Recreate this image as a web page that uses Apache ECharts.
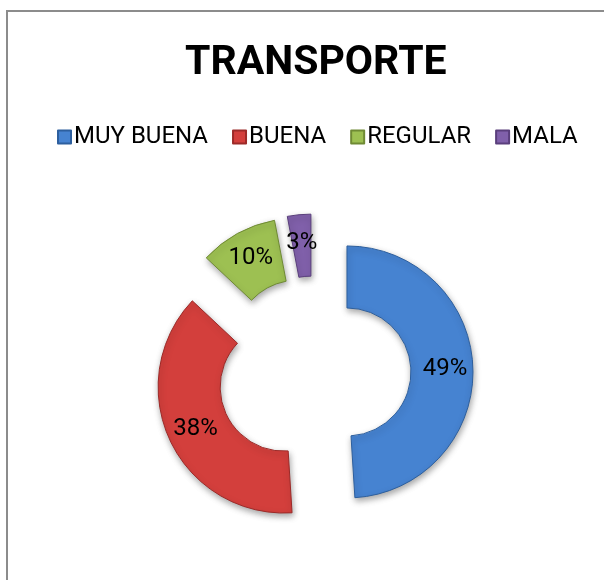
<!DOCTYPE html>
<html>
<head>
<meta charset="utf-8">
<script src="https://cdn.jsdelivr.net/npm/echarts@6/dist/echarts.min.js"></script>
<style>
  html, body { margin: 0; padding: 0; background: #fff; }
  #main { width: 604px; height: 580px; }
</style>
</head>
<body>
<div id="main"></div>
<script>
var categories = ['MUY BUENA', 'BUENA', 'REGULAR', 'MALA'];
var values = [49, 38, 10, 3];
var colors = ['#4683d1', '#d33f3c', '#9dc052', '#8060aa'];
var edgeColors = ['#2d5f9e', '#9c2a28', '#6f8a34', '#5a3f7c'];

var myChart = echarts.init(document.getElementById('main'));

var pieData = categories.map(function (name, i) {
    return {
        name: name,
        value: values[i],
        selected: true,
        itemStyle: { color: colors[i], borderColor: edgeColors[i] }
    };
});

var option = {
    backgroundColor: '#fff',
    animation: false,
    color: colors,
    graphic: [{
        type: 'rect',
        shape: { x: 7, y: 11, width: 700, height: 700 },
        style: { fill: 'none', stroke: '#8c8c8c', lineWidth: 2 }
    }],
    title: {
        text: 'TRANSPORTE',
        left: 180,
        top: 38,
        textStyle: {
            fontFamily: 'Roboto',
            fontSize: 41,
            fontWeight: 'bold',
            color: '#000'
        }
    },
    legend: {
        data: categories,
        left: 52,
        top: 120,
        icon: 'rect',
        itemWidth: 13,
        itemHeight: 13,
        itemGap: 24,
        textStyle: {
            fontFamily: 'Roboto',
            fontSize: 24,
            color: '#000',
            padding: [0, 0, 0, -2]
        }
    },
    series: [{
        type: 'pie',
        center: [314, 373],
        radius: [64, 126],
        startAngle: 90,
        selectedMode: 'multiple',
        selectedOffset: 33,
        label: {
            show: true,
            position: 'inside',
            formatter: '{c}%',
            fontFamily: 'Roboto',
            fontSize: 24,
            color: '#000'
        },
        labelLine: { show: false },
        itemStyle: {
            borderWidth: 1,
            shadowBlur: 6,
            shadowColor: 'rgba(0,0,0,0.35)',
            shadowOffsetX: 1,
            shadowOffsetY: 3
        },
        emphasis: { scale: false },
        data: pieData
    }]
};

myChart.setOption(option);
</script>
</body>
</html>
